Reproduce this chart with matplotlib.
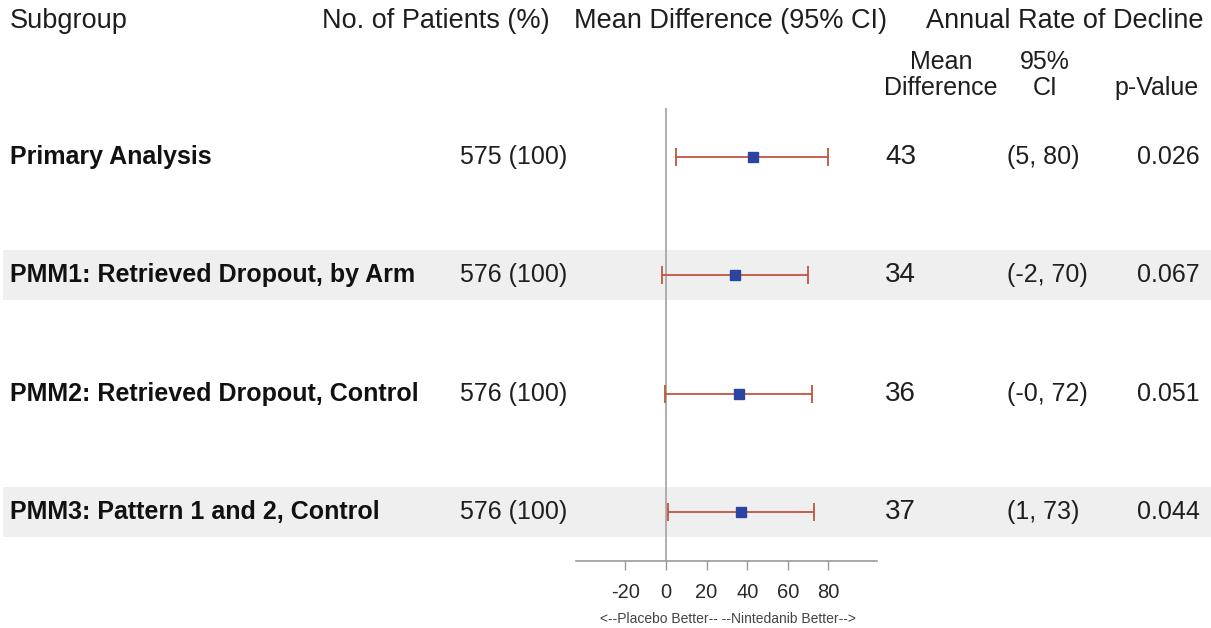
import matplotlib
matplotlib.use("Agg")
import matplotlib.pyplot as plt
from matplotlib.patches import Rectangle
import matplotlib.transforms as mtransforms

plt.rcParams['font.family'] = ['Liberation Sans', 'DejaVu Sans']

subgroups = ["Primary Analysis", "PMM1: Retrieved Dropout, by Arm",
             "PMM2: Retrieved Dropout, Control", "PMM3: Pattern 1 and 2, Control"]
patients = ["575 (100)", "576 (100)", "576 (100)", "576 (100)"]
mean_diff = [43, 34, 36, 37]
ci_low = [5, -2, -0.4, 1]
ci_high = [80, 70, 72, 73]
ci_text = ["(5, 80)", "(-2, 70)", "(-0, 72)", "(1, 73)"]
p_values = ["0.026", "0.067", "0.051", "0.044"]
xticks = [-20, 0, 20, 40, 60, 80]
shaded_rows = [1, 3]

W, H = 1211, 628
fig = plt.figure(figsize=(W / 100, H / 100), dpi=100)

def fx(px):
    return px / W

def fy(py):
    return 1 - py / H

ax_left, ax_right, ax_top, ax_bottom = 576, 877, 108, 561
ax = fig.add_axes([fx(ax_left), fy(ax_bottom), fx(ax_right - ax_left), (ax_bottom - ax_top) / H])
ax.set_xlim(-44.3, 103.9)
n = len(subgroups)
pad = 0.414
ax.set_ylim(n - 1 + pad, -pad)
ax.patch.set_alpha(0)

for s in ['top', 'right', 'left']:
    ax.spines[s].set_visible(False)
ax.spines['bottom'].set_color('#9a9a9a')
ax.spines['bottom'].set_linewidth(1.2)
ax.set_yticks([])
ax.set_xticks(xticks)
ax.set_xticklabels([str(t) for t in xticks])
ax.tick_params(axis='x', direction='out', length=6.5, width=1.0, color='#9a9a9a',
               labelsize=14.5, labelcolor='#2a2a2a', pad=9)
ax.axvline(0, color='#a8a8a8', lw=1.3, zorder=1)

rows = list(range(n))
blend = mtransforms.blended_transform_factory(fig.transFigure, ax.transData)

# shaded bands
for r in shaded_rows:
    rect = Rectangle((fx(3), r - 0.21), 1 - fx(3), 0.42, transform=blend,
                     facecolor='#efefef', edgecolor='none', zorder=0, clip_on=False)
    fig.add_artist(rect)

# error bars
for r, m, lo, hi in zip(rows, mean_diff, ci_low, ci_high):
    ax.errorbar([m], [r], xerr=[[m - lo], [hi - m]], fmt='s', color='#2a44a0',
                markersize=7, ecolor='#c0553f', elinewidth=1.3, capsize=6.5,
                capthick=1.3, zorder=3)

fs = 18
hfs = 19.5
tc = '#1e1e1e'
for r in rows:
    ax.text(fx(10), r, subgroups[r], transform=blend, fontsize=fs, fontweight='bold',
            ha='left', va='center', color='#111111')
    ax.text(fx(567), r, patients[r], transform=blend, fontsize=fs,
            ha='right', va='center', color=tc)
    ax.text(fx(885), r, str(mean_diff[r]), transform=blend, fontsize=20,
            ha='left', va='center', color=tc)
    ax.text(fx(1007), r, ci_text[r], transform=blend, fontsize=fs,
            ha='left', va='center', color=tc)
    ax.text(fx(1200), r, p_values[r], transform=blend, fontsize=fs,
            ha='right', va='center', color=tc)

# headers
hy = fy(21)
fig.text(fx(10), hy, "Subgroup", fontsize=hfs, ha='left', va='center', color=tc)
fig.text(fx(436), hy, "No. of Patients (%)", fontsize=hfs, ha='center', va='center', color=tc)
fig.text(fx(731), hy, "Mean Difference (95% CI)", fontsize=hfs, ha='center', va='center', color=tc)
fig.text(fx(1065), hy, "Annual Rate of Decline", fontsize=hfs, ha='center', va='center', color=tc)
fig.text(fx(941), fy(62), "Mean", fontsize=fs, ha='center', va='center', color=tc)
fig.text(fx(941), fy(88), "Difference", fontsize=fs, ha='center', va='center', color=tc)
fig.text(fx(1045), fy(62), "95%", fontsize=fs, ha='center', va='center', color=tc)
fig.text(fx(1045), fy(88), "CI", fontsize=fs, ha='center', va='center', color=tc)
fig.text(fx(1157), fy(88), "p-Value", fontsize=fs, ha='center', va='center', color=tc)

fig.text(fx(728), fy(619), "<--Placebo Better-- --Nintedanib Better-->", fontsize=10,
         ha='center', va='center', color='#444444')

fig.savefig("out.png", dpi=100)
